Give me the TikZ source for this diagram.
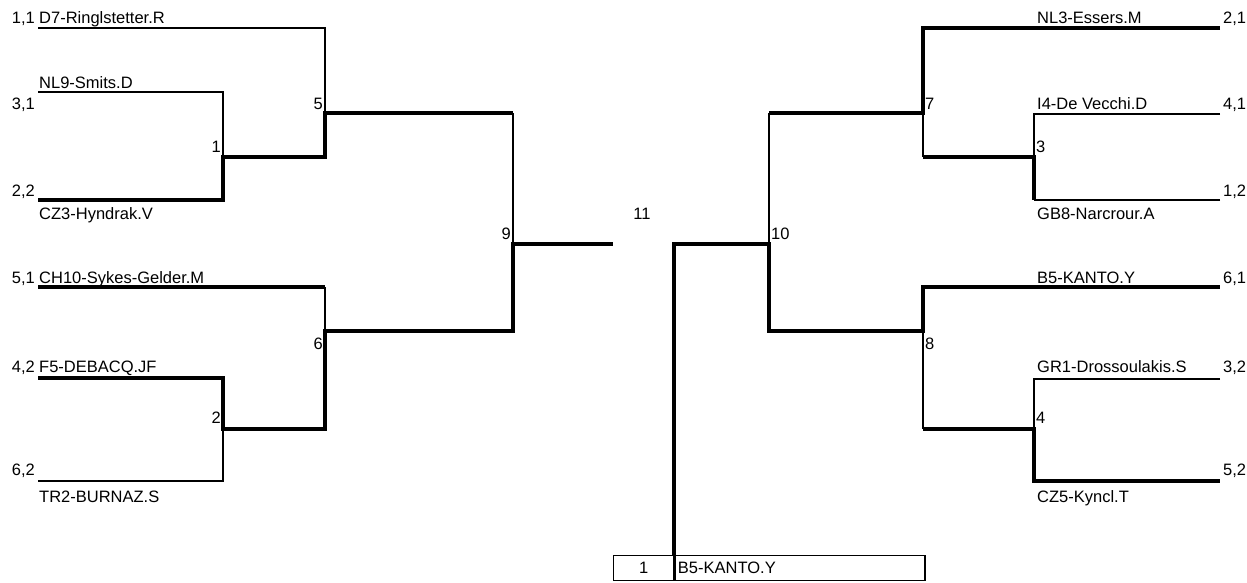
\documentclass[tikz,border=0pt]{standalone}
\usepackage{fontspec}
\setsansfont{Liberation Sans}
\usepackage{tikz}
\usetikzlibrary{positioning}

\begin{document}
\begin{tikzpicture}[
  x=1pt,y=-1pt,
  font=\sffamily\fontsize{16.5}{19}\selectfont,
  lose/.style={line width=1.3pt},
  win/.style={line width=4pt},
  txt/.style={inner sep=0pt},
  cell/.style={draw,line width=1.3pt,minimum height=25pt,inner sep=0pt,anchor=north west}
]
\path[use as bounding box,fill=white] (0,0) rectangle (1247,582);

% left half
\coordinate (s11) at (38,28);  \coordinate (s31) at (38,92);  \coordinate (s22) at (38,200);
\coordinate (s51) at (38,287); \coordinate (s42) at (38,378); \coordinate (s62) at (38,481);
\coordinate (m1) at (223,157); \coordinate (m2) at (223,429);
\coordinate (m5) at (325,113); \coordinate (m6) at (325,331);
\coordinate (m9) at (513,244); \coordinate (f9) at (613,244);

% right half
\coordinate (s21) at (1220,28);  \coordinate (s41) at (1220,114); \coordinate (s12) at (1220,200);
\coordinate (s61) at (1220,287); \coordinate (s32) at (1220,379); \coordinate (s52) at (1220,481);
\coordinate (m3) at (1034,157); \coordinate (m4) at (1034,429);
\coordinate (m7) at (923,113);  \coordinate (m8) at (923,331);
\coordinate (m10) at (769,244);

% winner box
\node[cell,minimum width=60pt] (rank) at (613,555) {1};
\node[cell,minimum width=250pt,text width=244pt,align=left,inner xsep=3pt,anchor=north west] (champ) at (rank.north east) {B5-KANTO.Y};

% left lines
\draw[lose] (s11) -| (m5);
\draw[lose] (s31) -| (m1);
\draw[lose] (s62) -| (m2);
\draw[lose] (s51 -| m6) -- (m6);
\draw[lose] (m5 -| m9) -- (m9);
\draw[win] (s22) -| (m1) -| (m5) -- (m5 -| m9);
\draw[win] (s51) -- (s51 -| m6);
\draw[win] (s42) -| (m2) -| (m6) -| (m9) -- (f9);

% right lines
\draw[lose] (m7) -- (m7 |- m3);
\draw[lose] (s41) -| (m3);
\draw[lose] (s12) -- (m3 |- s12);
\draw[lose] (m7 -| m10) -- (m10);
\draw[lose] (m8) -- (m8 |- m4);
\draw[lose] (s32) -| (m4);
\draw[win] (m7 |- m3) -- (m3) -- (m3 |- s12);
\draw[win] (s21) -| (m7) -- (m7 -| m10);
\draw[win] (champ.north west) |- (m10) |- (m8) |- (s61);
\draw[win] (m8 |- m4) -- (m4) |- (s52);

% seeds and names, left
\node[txt,anchor=base east] (k11) at (35,23) {1,1};
\node[txt,anchor=base west] (n11) at (39,23) {D7-Ringlstetter.R};
\node[txt,anchor=base west] (n31) at (39,88) {NL9-Smits.D};
\node[txt,anchor=base east] (k31) at (35,109) {3,1};
\node[txt,anchor=base east] (k22) at (35,196) {2,2};
\node[txt,anchor=base west] (n22) at (39,219) {CZ3-Hyndrak.V};
\node[txt,anchor=base east] (k51) at (35,283) {5,1};
\node[txt,anchor=base west] (n51) at (39,283) {CH10-Sykes-Gelder.M};
\node[txt,anchor=base east] (k42) at (35,372) {4,2};
\node[txt,anchor=base west] (n42) at (39,372) {F5-DEBACQ.JF};
\node[txt,anchor=base east] (k62) at (35,475) {6,2};
\node[txt,anchor=base west] (n62) at (39,502) {TR2-BURNAZ.S};

% seeds and names, right
\node[txt,anchor=base west] (n21) at (1037,23) {NL3-Essers.M};
\node[txt,anchor=base west] (k21) at (1223,23) {2,1};
\node[txt,anchor=base west] (n41) at (1037,109) {I4-De Vecchi.D};
\node[txt,anchor=base west] (k41) at (1223,109) {4,1};
\node[txt,anchor=base west] (k12) at (1223,196) {1,2};
\node[txt,anchor=base west] (n12) at (1037,219) {GB8-Narcrour.A};
\node[txt,anchor=base west] (n61) at (1037,283) {B5-KANTO.Y};
\node[txt,anchor=base west] (k61) at (1223,283) {6,1};
\node[txt,anchor=base west] (n32) at (1037,372) {GR1-Drossoulakis.S};
\node[txt,anchor=base west] (k32) at (1223,372) {3,2};
\node[txt,anchor=base west] (k52) at (1223,475) {5,2};
\node[txt,anchor=base west] (n52) at (1037,502) {CZ5-Kyncl.T};

% match numbers
\node[txt,anchor=base east] (r1) at (221,152) {1};
\node[txt,anchor=base east] (r2) at (221,423) {2};
\node[txt,anchor=base east] (r5) at (323,109) {5};
\node[txt,anchor=base east] (r6) at (323,349) {6};
\node[txt,anchor=base east] (r9) at (511,239) {9};
\node[txt,anchor=base west] (r3) at (1036,152) {3};
\node[txt,anchor=base west] (r4) at (1036,423) {4};
\node[txt,anchor=base west] (r7) at (925,109) {7};
\node[txt,anchor=base west] (r8) at (925,349) {8};
\node[txt,anchor=base west] (r10) at (771,239) {10};
\node[txt,anchor=base] (r11) at (642,219) {11};
\end{tikzpicture}
\end{document}
